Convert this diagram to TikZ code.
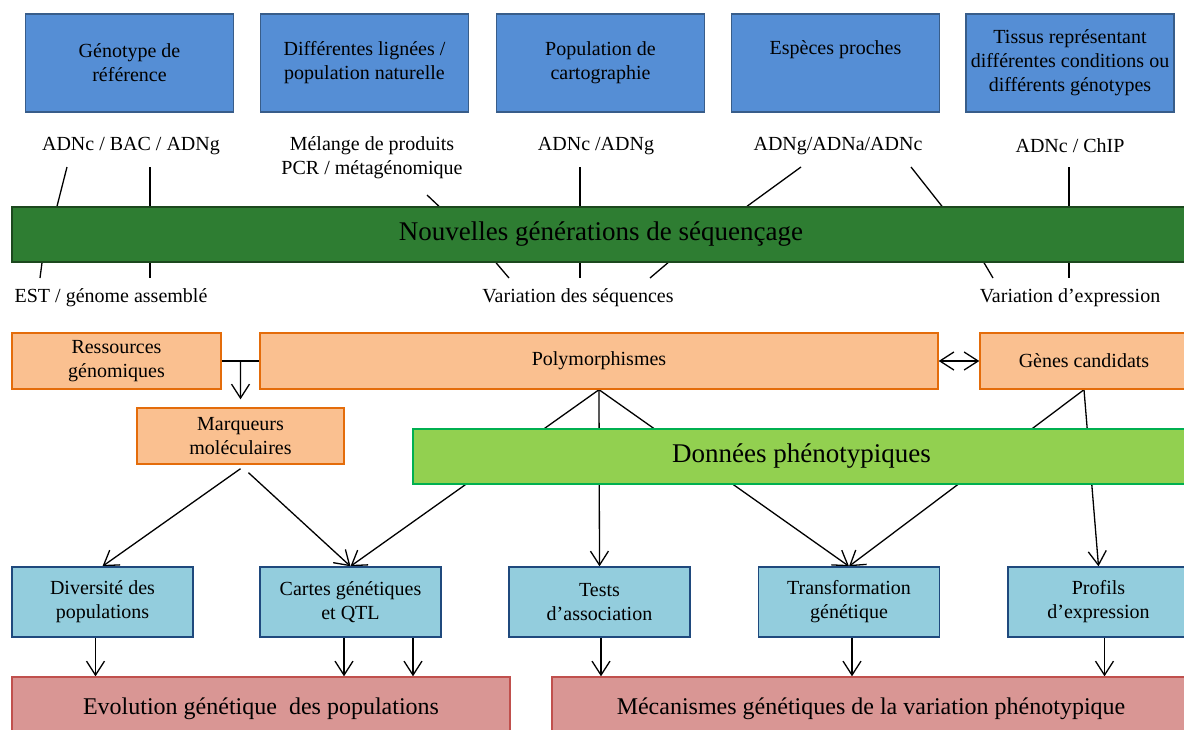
\documentclass[tikz,border=0pt]{standalone}
\usepackage{fontspec}
\setmainfont{Liberation Serif}
\usetikzlibrary{arrows.meta,calc}
\pgfdeclarelayer{bg}
\pgfsetlayers{bg,main}
\definecolor{topblue}{RGB}{85,142,213}
\definecolor{topblueb}{RGB}{56,93,138}
\definecolor{ngsgreen}{RGB}{46,125,50}
\definecolor{ngsb}{RGB}{28,72,30}
\definecolor{orfill}{RGB}{250,192,144}
\definecolor{orb}{RGB}{228,108,10}
\definecolor{phgreen}{RGB}{146,208,80}
\definecolor{phb}{RGB}{0,176,80}
\definecolor{ltblue}{RGB}{147,205,221}
\definecolor{ltblueb}{RGB}{31,73,125}
\definecolor{redfill}{RGB}{217,150,148}
\definecolor{redb}{RGB}{192,80,77}
\begin{document}
\begin{tikzpicture}[x=1pt,y=-1pt,
  font=\fontsize{20}{24}\selectfont,
  box/.style={draw,line width=1.4pt,inner sep=0pt,align=center},
  topbox/.style={box,fill=topblue,draw=topblueb,minimum width=208pt,minimum height=98pt},
  orbox/.style={box,fill=orfill,draw=orb,minimum height=56pt},
  lbbox/.style={box,fill=ltblue,draw=ltblueb,minimum width=181pt,minimum height=70pt},
  rdbox/.style={box,fill=redfill,draw=redb,minimum height=64pt,font=\fontsize{24}{28}\selectfont},
  lab/.style={inner sep=0pt,align=center},
  conn/.style={line width=1.3pt,black},
  arr/.style={conn,-{Straight Barb[length=14pt,width=18pt]}},
  darr/.style={conn,{Straight Barb[length=14pt,width=18pt]}-{Straight Barb[length=14pt,width=18pt]}}
]
\path[use as bounding box,clip] (0,0) rectangle (1184,729);

% top boxes
\node[topbox] (b1) at (129.5,63) {Génotype de\\référence};
\node[topbox] (b2) at (364.5,63) {Différentes lignées /\\population naturelle};
\node[topbox] (b3) at (600.5,63) {Population de\\cartographie};
\node[topbox] (b4) at (835.5,63) {Espèces proches\\\strut};
\node[topbox] (b5) at (1070,63) {Tissus représentant\\différentes conditions ou\\différents génotypes};

% labels above bar
\node[lab] (l1) at (131,146) {ADNc / BAC / ADNg};
\node[lab] (l2) at (372,158) {Mélange de produits\\PCR / métagénomique};
\node[lab] (l3) at (596,146) {ADNc /ADNg};
\node[lab] (l4) at (838,146) {ADNg/ADNa/ADNc};
\node[lab] (l5) at (1070,146) {ADNc / ChIP};

% NGS bar
\node[box,fill=ngsgreen,draw=ngsb,minimum width=1178pt,minimum height=55pt,
  font=\fontsize{27}{32}\selectfont] (ngs) at (601,234.5) {Nouvelles générations de séquençage};

% labels below bar
\node[lab] (m1) at (111,298) {EST / génome assemblé};
\node[lab] (m2) at (578,298) {Variation des séquences};
\node[lab] (m3) at (1070,298) {Variation d’expression};

% orange row
\node[orbox,minimum width=209pt] (res) at (116.5,361) {Ressources\\génomiques};
\node[orbox,minimum width=678pt] (poly) at (599,361) {Polymorphismes};
\node[orbox,minimum width=208pt] (genes) at (1084,361) {Gènes candidats};
\node[orbox,minimum width=207pt] (marq) at (240.5,436) {Marqueurs\\moléculaires};

% phenotypic data
\node[box,fill=phgreen,draw=phb,minimum width=777pt,minimum height=55pt,
  font=\fontsize{27}{32}\selectfont] (pheno) at (801.5,456.5) {Données phénotypiques};

% light blue row
\node[lbbox] (div) at (102.5,602) {Diversité des\\populations};
\node[lbbox] (cartes) at (350.5,602) {Cartes génétiques\\et QTL};
\node[lbbox] (tests) at (599.5,602) {Tests\\d’association};
\node[lbbox] (trans) at (849,602) {Transformation\\génétique};
\node[lbbox] (prof) at (1098.5,602) {Profils\\d’expression};

% red row
\node[rdbox,minimum width=498pt] (evo) at (261,709) {Evolution génétique\ \ des populations};
\node[rdbox,minimum width=638pt] (meca) at (871,709) {Mécanismes génétiques de la variation phénotypique};

% free ends of the short lines
\coordinate (t1) at (67,167);
\coordinate (t2) at (150,167);
\coordinate (t3) at (427,195);
\coordinate (t4) at (580,167);
\coordinate (t5) at (801,167);
\coordinate (t6) at (911,167);
\coordinate (t7) at (1069,167);
\coordinate (u1) at (40,278);
\coordinate (u2) at (150,278);
\coordinate (u3) at (509,278);
\coordinate (u4) at (580,278);
\coordinate (u5) at (650,278);
\coordinate (u6) at (993,278);
\coordinate (u7) at (1069,278);

\begin{pgfonlayer}{bg}
\draw[conn] (t1) -- (ngs.north -| 57,0);
\draw[conn] (t2) -- (ngs.north -| t2);
\draw[conn] (t3) -- (ngs.north -| 439,0);
\draw[conn] (t4) -- (ngs.north -| t4);
\draw[conn] (t5) -- (ngs.north -| 747,0);
\draw[conn] (t6) -- (ngs.north -| 942,0);
\draw[conn] (t7) -- (ngs.north -| t7);
\draw[conn] (ngs.south -| 42,0) -- (u1);
\draw[conn] (ngs.south -| u2) -- (u2);
\draw[conn] (ngs.south -| 496,0) -- (u3);
\draw[conn] (ngs.south -| u4) -- (u4);
\draw[conn] (ngs.south -| 668,0) -- (u5);
\draw[conn] (ngs.south -| 984,0) -- (u6);
\draw[conn] (ngs.south -| u7) -- (u7);

\draw[conn] (res.east) -- (poly.west);
\draw[arr] ($(res.east)!0.5!(poly.west)$) -- ($(marq.north)+(0,-8)$);
\draw[darr] (poly.east) -- (genes.west);

\draw[arr] ($(marq.south)+(0,4)$) -- (div.north);
\draw[arr] ($(marq.south)+(8,8)$) -- (cartes.north);

\draw[arr] (poly.south) -- (cartes.north);
\draw[arr] (poly.south) -- (tests.north);
\draw[arr] (poly.south) -- (trans.north);
\draw[arr] (genes.south) -- (trans.north);
\draw[arr] (genes.south) -- (prof.north);

\draw[arr] ([xshift=-7pt]div.south) -- ([xshift=-7pt]div.south |- evo.north);
\draw[arr] ([xshift=-6.5pt]cartes.south) -- ([xshift=-6.5pt]cartes.south |- evo.north);
\draw[arr] ([xshift=62.5pt]cartes.south) -- ([xshift=62.5pt]cartes.south |- evo.north);
\draw[arr] ([xshift=1.5pt]tests.south) -- ([xshift=1.5pt]tests.south |- meca.north);
\draw[arr] ([xshift=3pt]trans.south) -- ([xshift=3pt]trans.south |- meca.north);
\draw[arr] ([xshift=6pt]prof.south) -- ([xshift=6pt]prof.south |- meca.north);
\end{pgfonlayer}
\end{tikzpicture}
\end{document}
